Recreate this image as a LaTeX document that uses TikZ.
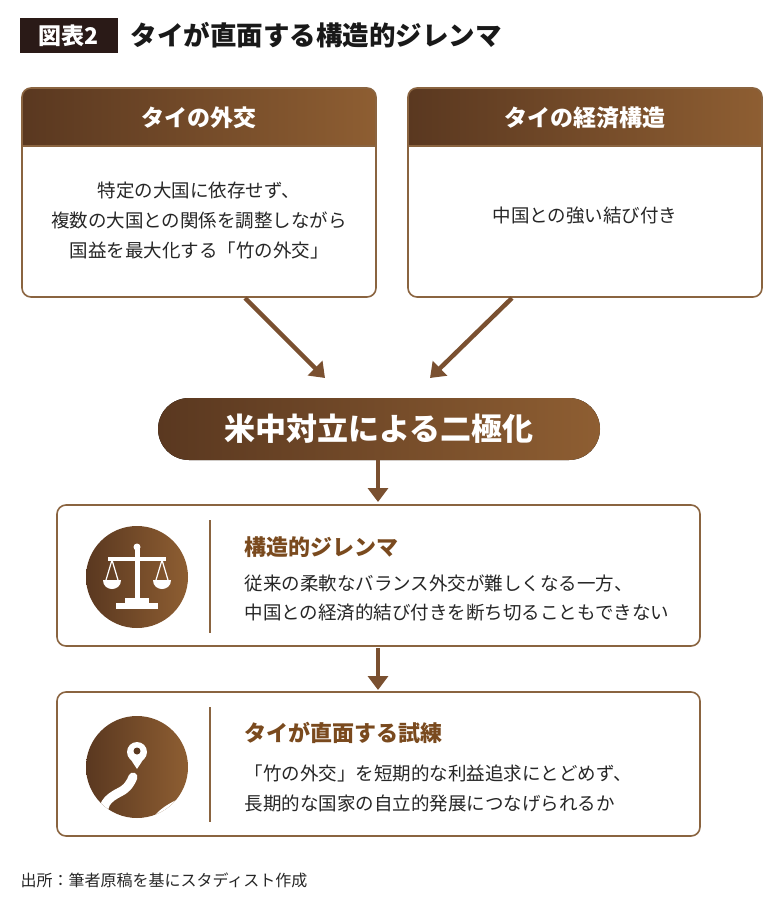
\documentclass[tikz,border=0pt]{standalone}
\usepackage{fontspec}
\setmainfont{Noto Sans CJK JP}
\usetikzlibrary{arrows.meta,shadings}
\definecolor{brD}{HTML}{5A3820}
\definecolor{brL}{HTML}{8E5E32}
\definecolor{brM}{HTML}{7A5030}
\definecolor{edge}{HTML}{8A6440}
\definecolor{ttl}{HTML}{7A4A1E}
\definecolor{dark}{HTML}{2A1A17}
\begin{document}
\begin{tikzpicture}[x=1pt,y=-1pt,
  box/.style={draw=edge,line width=1.6pt,rounded corners=9pt},
  hdr/.style={left color=brD,right color=brL},
  arr/.style={draw=brM,line width=4.5pt,-{Triangle[length=14pt,width=20pt]}},
  body/.style={font=\fontsize{18.5}{30}\selectfont,text=black!85,align=center},
  sub/.style={font=\fontsize{22}{24}\selectfont\bfseries,text=ttl,anchor=west},
  desc/.style={font=\fontsize{18.5}{20}\selectfont,text=black!85,anchor=west}]
\useasboundingbox (0,0) rectangle (780,905);
% title
\fill[dark] (20,18) rectangle (118,53);
\node[text=white,font=\fontsize{23}{24}\selectfont\bfseries] (tag) at (69,35.5) {図表2};
\node[anchor=west,font=\fontsize{26.5}{28}\selectfont\bfseries,text=black!90] (title) at (127,35.5) {タイが直面する構造的ジレンマ};
% top boxes
\foreach \x in {22,408}{
  \begin{scope}
  \clip[rounded corners=9pt] (\x,88) rectangle (\x+354,297);
  \fill[white] (\x,88) rectangle (\x+354,297);
  \fill[hdr] (\x,88) rectangle (\x+354,146);
  \end{scope}
  \draw[box] (\x,88) rectangle (\x+354,297);
  \draw[edge,line width=1.2pt] (\x,146) -- (\x+354,146);
}
\node[text=white,font=\fontsize{23}{24}\selectfont\bfseries] (ha) at (199,118) {タイの外交};
\node[text=white,font=\fontsize{23}{24}\selectfont\bfseries] (hb) at (585,118) {タイの経済構造};
\node[body] (ta) at (199,221) {特定の大国に依存せず、\\複数の大国との関係を調整しながら\\国益を最大化する「竹の外交」};
\node[body] (tb) at (585,216) {中国との強い結び付き};
\coordinate (a1) at (245,298); \coordinate (a2) at (325,378);
\coordinate (b1) at (512,298); \coordinate (b2) at (430,378);
\draw[arr] (a1) -- (a2);
\draw[arr] (b1) -- (b2);
% pill
\fill[hdr,rounded corners=31pt] (158,398) rectangle (600,460);
\node[text=white,font=\fontsize{31}{32}\selectfont\bfseries] (pill) at (379,429) {米中対立による二極化};
\coordinate (p1) at (378,460); \coordinate (p2) at (378,502);
\draw[arr] (p1) -- (p2);
% box 3
\draw[box,fill=white] (57,505) rectangle (700,646);
\shade[left color=brD,right color=brL] (137,577) circle (51);
\draw[edge,line width=1.5pt] (210,520) -- (210,633);
\node[sub] (s3) at (241,547) {構造的ジレンマ};
\node[desc] (d3a) at (241,583) {従来の柔軟なバランス外交が難しくなる一方、};
\node[desc] (d3b) at (241,613) {中国との経済的結び付きを断ち切ることもできない};
% scale icon
\begin{scope}[white]
\fill (134.5,548) rectangle (139.5,601);
\fill (137,547) circle (3.5);
\fill (108,557) rectangle (166,561);
\fill (125,598) rectangle (149,603);
\fill (116,603) rectangle (158,609);
\draw[line width=1.2pt] (112,560) -- (106,580) (112,560) -- (118,580) (162,560) -- (156,580) (162,560) -- (168,580);
\fill (103,580) -- (121,580) .. controls (121,592) and (103,592) .. (103,580);
\fill (153,580) -- (171,580) .. controls (171,592) and (153,592) .. (153,580);
\end{scope}
\coordinate (q1) at (378,648); \coordinate (q2) at (378,690);
\draw[arr] (q1) -- (q2);
% box 4
\draw[box,fill=white] (57,692) rectangle (700,836);
\begin{scope}
\clip (137,767) circle (51);
\shade[left color=brD,right color=brL] (86,716) rectangle (188,818);
\draw[white,line width=9pt,line cap=round] (108,822) .. controls (98,806) and (108,798) .. (120,792) .. controls (128,788) and (131,782) .. (133,777);
\fill[white] (150,822) .. controls (160,805) and (178,800) .. (192,792) -- (192,830) -- cycle;
\end{scope}
\fill[white] (137,752) circle (10);
\fill[white] (128.5,756) -- (145.5,756) -- (137,769) -- cycle;
\fill[brD] (137,751) circle (3.5);
\draw[edge,line width=1.5pt] (210,707) -- (210,822);
\node[sub] (s4) at (241,733) {タイが直面する試練};
\node[desc] (d4a) at (241,773) {「竹の外交」を短期的な利益追求にとどめず、};
\node[desc] (d4b) at (241,803) {長期的な国家の自立的発展につなげられるか};
\node[anchor=west,font=\fontsize{16}{17}\selectfont,text=black!85] (src) at (17,880) {出所：筆者原稿を基にスタディスト作成};
\end{tikzpicture}
\end{document}
